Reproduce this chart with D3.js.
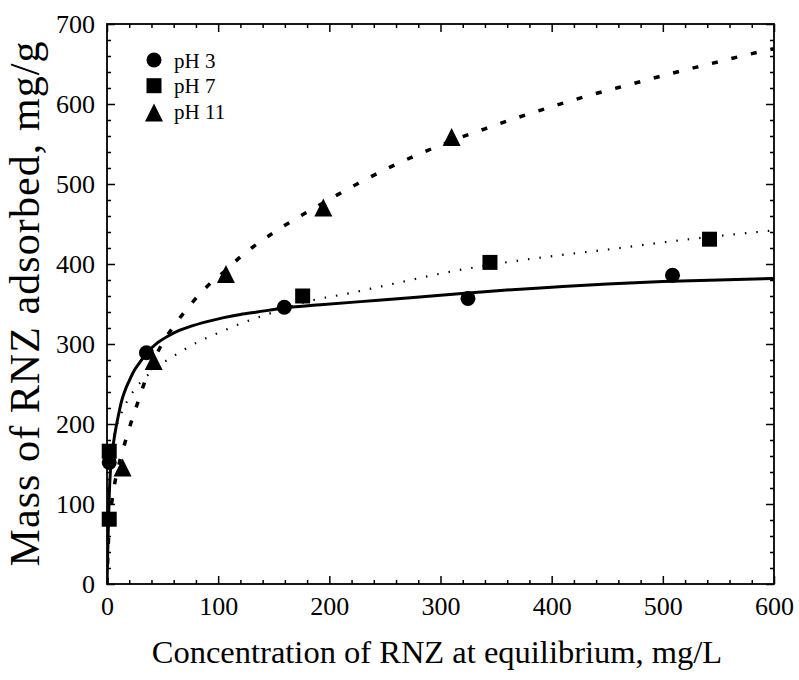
<!DOCTYPE html>
<html><head><meta charset="utf-8">
<script src="https://cdn.jsdelivr.net/npm/d3@7"></script>
<style>body{margin:0;background:#fff}</style>
</head><body>
<svg id="chart" width="799" height="680"></svg>
<script>
// ---- data ----
const seriesNames = ["pH 3", "pH 7", "pH 11"];
const ph3X = [2, 35.5, 159.5, 324.7, 508.7];
const ph3Y = [152, 289, 346, 357, 386];
const ph7X = [2, 2, 176, 344.5, 542];
const ph7Y = [166, 81, 360, 402, 431];
const ph11X = [14, 42, 107, 194.6, 310];
const ph11Y = [145, 278, 387, 470, 558];

// fitted curves
const fit3X = [0, 0.5, 1, 2, 3, 4, 6, 8, 10, 13, 16, 20, 25, 30, 36, 45, 55, 65, 75, 90, 105, 120, 135, 160, 192, 247, 300, 354, 400, 450, 500, 550, 600];
const fit3Y = [0, 30, 60, 110, 140, 158, 178, 195, 209, 228, 241, 254, 268, 278, 289, 301, 310, 317, 322, 328, 333, 337, 340, 345, 349, 355, 361, 367, 371, 375, 378, 380, 382];
const fit7X = [0, 0.3, 1, 2, 4, 7, 10, 15, 20, 30, 39, 50, 60, 81, 102, 123, 144, 177, 220, 260, 300, 354, 407, 450, 500, 550, 600];
const fit7Y = [0, 95, 128, 152, 172, 190, 203, 220, 233, 252, 264, 276, 285, 302, 315, 327, 337, 352, 364, 376, 388, 401, 411, 418, 427, 435, 442];
const fit11X = [0, 1, 3, 6, 10, 16, 21, 27, 33, 41, 49, 61, 75, 90, 106, 121, 138, 154, 174, 194, 208, 225, 250, 280, 310, 340, 365, 401, 437, 472, 507, 542, 577, 600];
const fit11Y = [0, 45, 85, 118, 145, 176, 199, 224, 249, 276, 299, 324, 349, 372, 391, 410, 428, 443, 460, 476, 487, 500, 518, 537, 554, 569, 581, 597, 612, 625, 638, 650, 662, 669];

const xTicks = [0, 100, 200, 300, 400, 500, 600];
const yTicks = [0, 100, 200, 300, 400, 500, 600, 700];
const xTitle = "Concentration of RNZ at equilibrium, mg/L";
const yTitle = "Mass of RNZ adsorbed, mg/g";

// ---- layout ----
const L = 107, R = 774, T = 24, B = 584;
const svg = d3.select("#chart");
const x = d3.scaleLinear().domain([0, 600]).range([L, R]);
const y = d3.scaleLinear().domain([0, 700]).range([B, T]);
const font = "'Liberation Serif', 'Times New Roman', serif";

svg.append("defs").append("clipPath").attr("id", "clip")
  .append("rect").attr("x", L).attr("y", T).attr("width", R - L).attr("height", B - T);

// axes with inward ticks on all four sides
const minorX = d3.range(0, 601, 20).filter(v => v % 100 !== 0);
const minorY = d3.range(0, 701, 20).filter(v => v % 100 !== 0);
function addAxis(axisGen, tr, major, minor, showLabels) {
  const gMaj = svg.append("g").attr("transform", tr)
    .call(axisGen.tickValues(major).tickSizeInner(-8).tickSizeOuter(0).tickPadding(showLabels ? 20 : 0)
      .tickFormat(showLabels ? d3.format("d") : ""));
  gMaj.select(".domain").remove();
  const gMin = svg.append("g").attr("transform", tr)
    .call(axisGen.tickValues(minor).tickSizeInner(-4).tickSizeOuter(0).tickFormat(""));
  gMin.select(".domain").remove();
  [gMaj, gMin].forEach(g => g.selectAll("line").attr("stroke", "#000").attr("stroke-width", 1.5));
  gMaj.selectAll("text").attr("font-family", font).attr("font-size", 26).attr("fill", "#000");
  return gMaj;
}
const gx = addAxis(d3.axisBottom(x), `translate(0,${B})`, xTicks, minorX, true);
gx.selectAll("text").attr("dy", "0.71em").attr("y", 13);
addAxis(d3.axisTop(x), `translate(0,${T})`, xTicks, minorX, false);
const gy = addAxis(d3.axisLeft(y), `translate(${L},0)`, yTicks, minorY, true);
gy.selectAll("text").attr("x", -12);
addAxis(d3.axisRight(y), `translate(${R},0)`, yTicks, minorY, false);

svg.append("rect").attr("x", L).attr("y", T).attr("width", R - L).attr("height", B - T)
  .attr("fill", "none").attr("stroke", "#000").attr("stroke-width", 1.8);

// fitted lines
const line = d3.line().x(d => x(d[0])).y(d => y(d[1])).curve(d3.curveMonotoneX);
const plot = svg.append("g").attr("clip-path", "url(#clip)");
plot.append("path").datum(d3.zip(fit7X, fit7Y)).attr("d", line)
  .attr("fill", "none").attr("stroke", "#000").attr("stroke-width", 2.2).attr("stroke-dasharray", "1.5,10");
plot.append("path").datum(d3.zip(fit11X, fit11Y)).attr("d", line)
  .attr("fill", "none").attr("stroke", "#000").attr("stroke-width", 3.5).attr("stroke-dasharray", "6,14");
plot.append("path").datum(d3.zip(fit3X, fit3Y)).attr("d", line)
  .attr("fill", "none").attr("stroke", "#000").attr("stroke-width", 3);

// markers
const tri = "M0,-9.5L9,8.5L-9,8.5Z";
const circ = d3.symbol().type(d3.symbolCircle).size(Math.PI * 7.5 * 7.5)();
const sq = "M-7.5,-7.5H7.5V7.5H-7.5Z";
const shapes = [circ, sq, tri];
const pts = [d3.zip(ph3X, ph3Y), d3.zip(ph7X, ph7Y), d3.zip(ph11X, ph11Y)];
pts.forEach((arr, i) => {
  svg.append("g").selectAll("path").data(arr).join("path")
    .attr("d", shapes[i]).attr("fill", "#000")
    .attr("transform", d => `translate(${x(d[0])},${y(d[1])})`);
});

// legend
const leg = svg.append("g");
seriesNames.forEach((n, i) => {
  const cy = 60 + i * 25.7;
  leg.append("path").attr("d", shapes[i]).attr("fill", "#000")
    .attr("transform", `translate(154,${cy + (i === 2 ? 1.5 : 0)})`);
  leg.append("text").attr("x", 174).attr("y", cy + 7.5).text(n)
    .attr("font-family", font).attr("font-size", 21).attr("fill", "#000");
});

// titles
svg.append("text").attr("x", 437).attr("y", 663).attr("text-anchor", "middle")
  .attr("font-family", font).attr("font-size", 32.5).attr("fill", "#000").text(xTitle);
svg.append("text").attr("transform", `translate(39,${(T + B) / 2}) rotate(-90)`).attr("text-anchor", "middle")
  .attr("font-family", font).attr("font-size", 42).attr("textLength", 525).attr("lengthAdjust", "spacing")
  .attr("fill", "#000").text(yTitle);
</script>
</body></html>
